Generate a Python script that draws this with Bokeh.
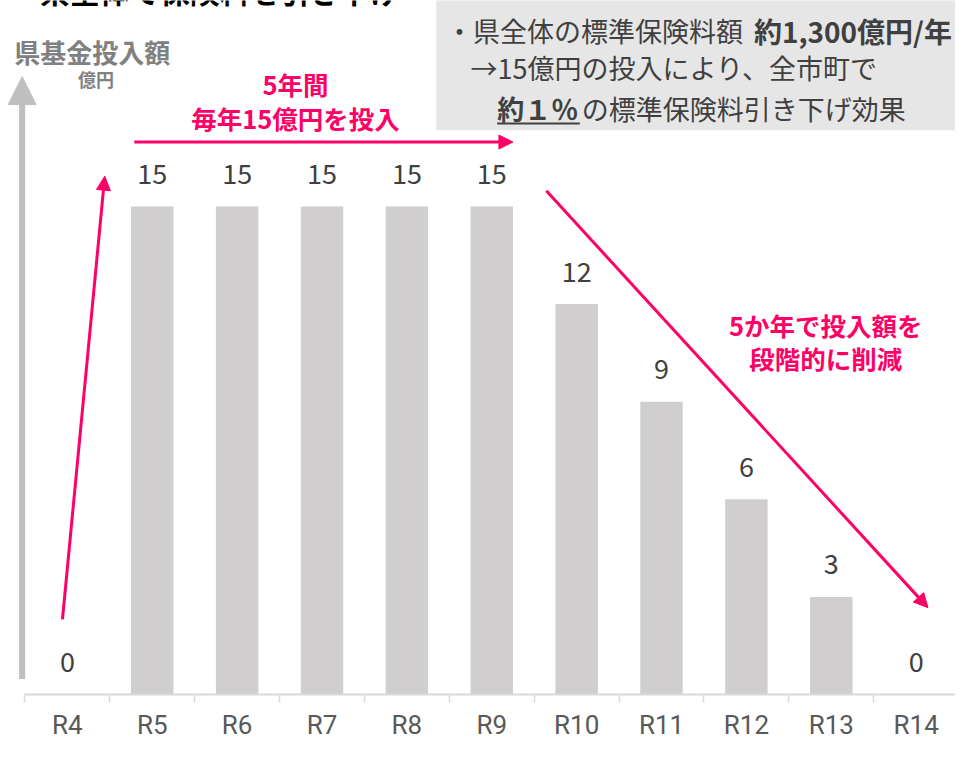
from bokeh.plotting import figure
from bokeh.models import (ColumnDataSource, Range1d, LinearAxis, FixedTicker,
                          Arrow, NormalHead)
from bokeh.core.properties import value
from bokeh.embed import file_html
from bokeh.resources import INLINE

# ---- data ----
categories = ["R4", "R5", "R6", "R7", "R8", "R9", "R10", "R11", "R12", "R13", "R14"]
values = [0, 15, 15, 15, 15, 15, 12, 9, 6, 3, 0]
value_labels = [str(v) for v in values]

title_text = "県基金投入額"
unit_text = "億円"
note_line1_a = "・県全体の標準保険料額"
note_line1_b = "約1,300億円/年"
note_line2 = "→15億円の投入により、全市町で"
note_line3_a = "約１％"
note_line3_b = "の標準保険料引き下げ効果"
pink_top = ["5年間", "毎年15億円を投入"]
pink_right = ["5か年で投入額を", "段階的に削減"]
top_cut = "県全体で保険料を引き下げ"

# ---- layout helpers (reference pixel -> data) ----
W, H = 955, 742
def X(px):
    return (px - 68) / 86.3
def Y(py):
    return (711 - py) / 33.33

JP = value("Noto Sans CJK JP")
PINK = "#ff0066"
DARK = "#404040"

idx = list(range(len(categories)))
p = figure(width=W, height=H, output_backend="svg", toolbar_location=None,
           x_range=Range1d(X(0), X(971)), y_range=Range1d(0, Y(0)),
           min_border_left=0, min_border_right=0, min_border_top=0,
           min_border_bottom=46, x_axis_location=None, y_axis_location=None)
p.outline_line_color = None
p.xgrid.visible = False
p.ygrid.visible = False
p.background_fill_color = "white"

# x axis
xa = LinearAxis(ticker=FixedTicker(ticks=idx, minor_ticks=[i - 0.5 for i in range(len(categories) + 1)]))
xa.major_label_overrides = {i: c for i, c in enumerate(categories)}
xa.major_tick_out = 0
xa.major_tick_in = 0
xa.minor_tick_out = 8
xa.minor_tick_in = 0
xa.minor_tick_line_color = "#d9d9d9"
xa.minor_tick_line_width = 1.5
xa.axis_line_color = "#d9d9d9"
xa.axis_line_width = 2
xa.bounds = (-0.5, 10.6)
xa.major_label_text_font = "Roboto"
xa.major_label_text_font_size = "26px"
xa.major_label_text_color = "#595959"
xa.major_label_standoff = 7
p.add_layout(xa, "below")

# gray note box
p.quad(left=[X(443)], right=[X(975)], top=[Y(-5)], bottom=[Y(133)],
       fill_color="#e7e6e6", line_color=None)

# bars
src = ColumnDataSource(dict(x=idx, top=values, lab=value_labels,
                            ly=[v + 1.0 for v in values]))
p.vbar(x="x", top="top", width=0.5, source=src, fill_color="#d0cece", line_color=None)
p.text(x="x", y="ly", text="lab", source=src, text_align="center",
       text_baseline="middle", text_font=JP, text_font_size="27px", text_color=DARK)

# y axis arrow
p.add_layout(Arrow(end=NormalHead(size=28, fill_color="#bfbfbf", line_color="#bfbfbf"),
                   x_start=X(22), y_start=Y(695), x_end=X(22), y_end=Y(78),
                   line_color="#bfbfbf", line_width=6))

# title
p.text(x=[X(14)], y=[Y(52)], text=[title_text], text_align="left", text_baseline="middle",
       text_font=JP, text_font_style="bold", text_font_size="26px", text_color="#808080")
p.text(x=[X(97)], y=[Y(80)], text=[unit_text], text_align="center", text_baseline="middle",
       text_font=JP, text_font_style="bold", text_font_size="18px", text_color="#808080")

# top cut text (clipped at the top edge, as in the reference)
p.text(x=[X(40)], y=[Y(12)], text=[top_cut], text_align="left", text_baseline="bottom",
       text_font=JP, text_font_style="bold", text_font_size="30px", text_color="#000000")

# note texts
fs_note = "27px"
p.text(x=[X(453)], y=[Y(31)], text=[note_line1_a], text_align="left", text_baseline="middle",
       text_font=JP, text_font_size=fs_note, text_color=DARK)
p.text(x=[X(766)], y=[Y(31)], text=[note_line1_b], text_align="left", text_baseline="middle",
       text_font=JP, text_font_style="bold", text_font_size="28px", text_color=DARK)
p.text(x=[X(478)], y=[Y(69)], text=[note_line2], text_align="left", text_baseline="middle",
       text_font=JP, text_font_size=fs_note, text_color=DARK)
p.text(x=[X(505)], y=[Y(111)], text=[note_line3_a], text_align="left", text_baseline="middle",
       text_font=JP, text_font_style="bold", text_font_size=fs_note, text_color=DARK)
p.text(x=[X(591)], y=[Y(111)], text=[note_line3_b], text_align="left", text_baseline="middle",
       text_font=JP, text_font_size=fs_note, text_color=DARK)
p.segment(x0=[X(505)], y0=[Y(126)], x1=[X(589)], y1=[Y(126)], line_color=DARK, line_width=2)

# pink annotations
for txt, yy in zip(pink_top, [85, 120]):
    p.text(x=[X(300)], y=[Y(yy)], text=[txt], text_align="center", text_baseline="middle",
           text_font=JP, text_font_style="bold", text_font_size="25.5px", text_color=PINK)
for txt, yy in zip(pink_right, [332, 366]):
    p.text(x=[X(839)], y=[Y(yy)], text=[txt], text_align="center", text_baseline="middle",
           text_font=JP, text_font_style="bold", text_font_size="25.5px", text_color=PINK)

def pink_arrow(x0, y0, x1, y1):
    p.add_layout(Arrow(end=NormalHead(size=14, fill_color=PINK, line_color=PINK),
                       x_start=X(x0), y_start=Y(y0), x_end=X(x1), y_end=Y(y1),
                       line_color=PINK, line_width=3))

pink_arrow(63, 634, 106, 180)
pink_arrow(136, 145, 521, 145)
pink_arrow(555, 195, 943, 622)

open("out.html", "w").write(file_html(p, INLINE))
